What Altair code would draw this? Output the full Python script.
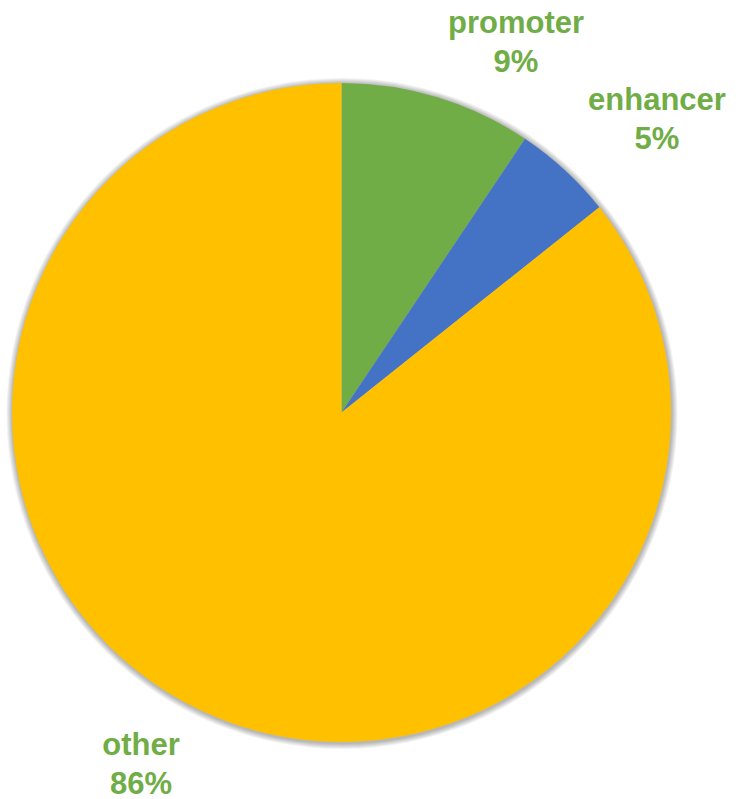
import altair as alt
import pandas as pd

# Data
categories = ["promoter", "enhancer", "other"]
shares = [9.4, 4.9, 85.7]
labels_pct = ["9%", "5%", "86%"]
colors = ["#70AD47", "#4472C4", "#FFC000"]

# Layout (not data)
W, H = 736, 799
CX, CY, R = 341.5, 412.5, 329.5
label_x = [516, 657, 141]
label_y = [33, 110, 755]
LINE = 39
TEXT_COLOR = "#70AD47"

df = pd.DataFrame({"cat": categories, "share": shares, "order": list(range(len(categories)))})

rows = []
for c, p, lx, ly in zip(categories, labels_pct, label_x, label_y):
    rows.append({"t": c, "px": lx, "py": ly})
    rows.append({"t": p, "px": lx, "py": ly + LINE})
lab = pd.DataFrame(rows)

layers = []
# soft shadow rings drawn as large filled circles
for k in range(6, 0, -1):
    r = R + k
    ring = alt.Chart(pd.DataFrame({"v": [1]})).mark_point(
        shape="circle", filled=True, color="#000000", opacity=0.05, strokeWidth=0
    ).encode(
        x=alt.value(CX + 0.5),
        y=alt.value(CY + 1),
        size=alt.value((2 * r) ** 2),
    )
    layers.append(ring)

pie = alt.Chart(df).mark_arc(radius=R).encode(
    theta=alt.Theta("share:Q", stack=True),
    order=alt.Order("order:Q"),
    color=alt.Color("cat:N", scale=alt.Scale(domain=categories, range=colors), legend=None),
    x=alt.value(CX),
    y=alt.value(CY),
)
layers.append(pie)

text = alt.Chart(lab).mark_text(
    font="Liberation Sans", fontWeight="bold", fontSize=31, color=TEXT_COLOR,
    align="center", baseline="alphabetic"
).encode(
    text="t:N",
    x=alt.X("px:Q", scale=alt.Scale(domain=[0, W], nice=False, zero=False), axis=None),
    y=alt.Y("py:Q", scale=alt.Scale(domain=[0, H], range=[0, H], nice=False, zero=False), axis=None),
)
layers.append(text)

chart = alt.layer(*layers).properties(
    width=W, height=H, padding=0, autosize=alt.AutoSizeParams(type="none"),
    background="white"
).configure_view(stroke=None, strokeWidth=0)

chart.save("out.html", embed_options={"renderer": "svg", "actions": False})
